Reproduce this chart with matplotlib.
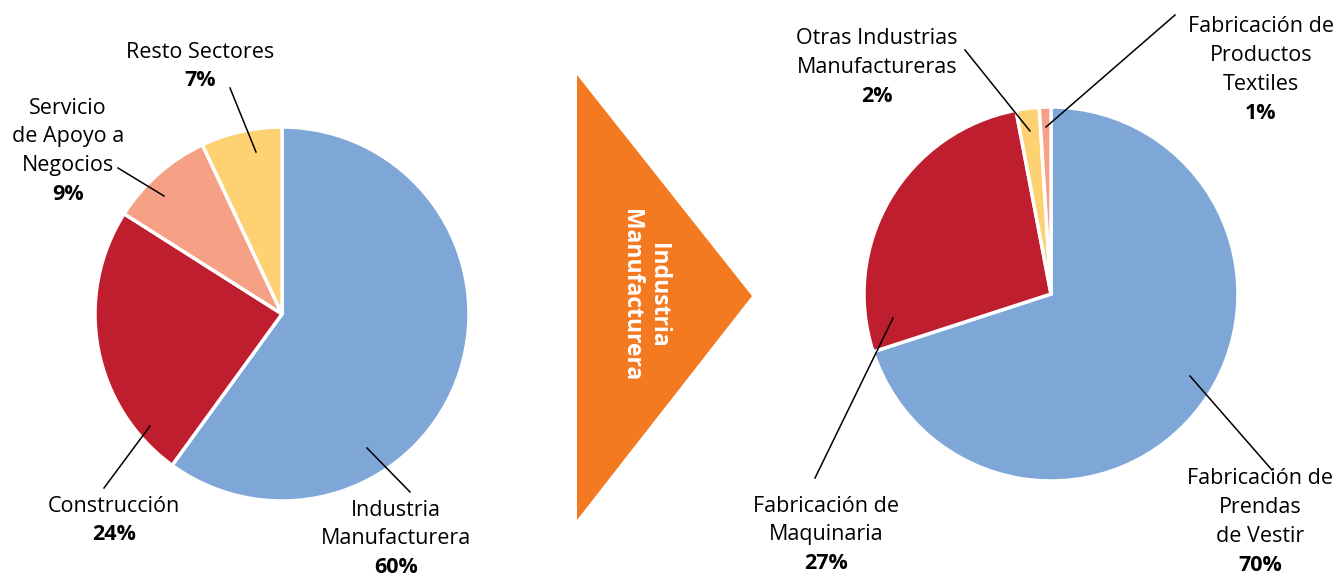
import matplotlib
matplotlib.use("Agg")
import matplotlib.pyplot as plt
from matplotlib.patches import Polygon

plt.rcParams['font.family'] = ['Open Sans', 'DejaVu Sans']

W, H = 1338, 576

# left pie: all sectors
sectores = ['Industria\nManufacturera', 'Construcción',
            'Servicio\nde Apoyo a\nNegocios', 'Resto Sectores']
sectores_pct = [60, 24, 9, 7]

# right pie: breakdown of manufacturing
manufactura = ['Fabricación de\nPrendas\nde Vestir', 'Fabricación de\nMaquinaria',
               'Otras Industrias\nManufactureras', 'Fabricación de\nProductos\nTextiles']
manufactura_pct = [70, 27, 2, 1]

blue, red, salmon, yellow = '#7EA7D8', '#BE1E2D', '#F6A185', '#FED273'
orange = '#F47A22'


def py(y):
    # pixel row (from top) -> data y (from bottom)
    return H - y


fig = plt.figure(figsize=(W / 100, H / 100), dpi=100)
ax = fig.add_axes([0, 0, 1, 1])

wedge = dict(edgecolor='white', linewidth=2.5)
ax.pie(sectores_pct, colors=[blue, red, salmon, yellow], startangle=90,
       counterclock=False, center=(282, py(314)), radius=187, wedgeprops=wedge)
ax.pie(manufactura_pct, colors=[blue, red, yellow, salmon], startangle=90,
       counterclock=False, center=(1051, py(294)), radius=187, wedgeprops=wedge)

# arrow between the pies
ax.add_patch(Polygon([(577, py(75)), (577, py(520)), (752, py(296))],
                     closed=True, facecolor=orange, edgecolor='none'))
for txt, x in [('Industria', 658), ('Manufacturera', 631)]:
    ax.text(x, py(295), txt, rotation=-90, color='white', fontsize=16.5,
            fontweight='bold', ha='center', va='center')

fs = 15.5
lh = 28.8  # line height in px


def label(name, pct, x, y_first):
    lines = name.split('\n')
    for i, ln in enumerate(lines):
        ax.text(x, py(y_first + i * lh), ln, fontsize=fs, ha='center', va='center')
    ax.text(x, py(y_first + len(lines) * lh), f'{pct}%', fontsize=fs,
            fontweight='bold', ha='center', va='center')


label(sectores[0], sectores_pct[0], 396, 510)
label(sectores[1], sectores_pct[1], 114, 506)
label(sectores[2], sectores_pct[2], 68, 108)
label(sectores[3], sectores_pct[3], 200, 52)

label(manufactura[0], manufactura_pct[0], 1260, 479)
label(manufactura[1], manufactura_pct[1], 826, 506)
label(manufactura[2], manufactura_pct[2], 877, 39)
label(manufactura[3], manufactura_pct[3], 1261, 27)

leaders = [
    ((230, 88), (256, 152)),
    ((118, 168), (164, 196)),
    ((104, 488), (150, 426)),
    ((410, 492), (367, 448)),
    ((815, 478), (893, 318)),
    ((1272, 470), (1190, 376)),
    ((965, 50), (1030, 131)),
    ((1175, 15), (1046, 127)),
]
for (x0, y0), (x1, y1) in leaders:
    ax.plot([x0, x1], [py(y0), py(y1)], color='black', linewidth=1.1)

ax.set_xlim(0, W)
ax.set_ylim(0, H)
ax.set_aspect('equal')
ax.axis('off')

fig.savefig('out.png', dpi=100, facecolor='white')
